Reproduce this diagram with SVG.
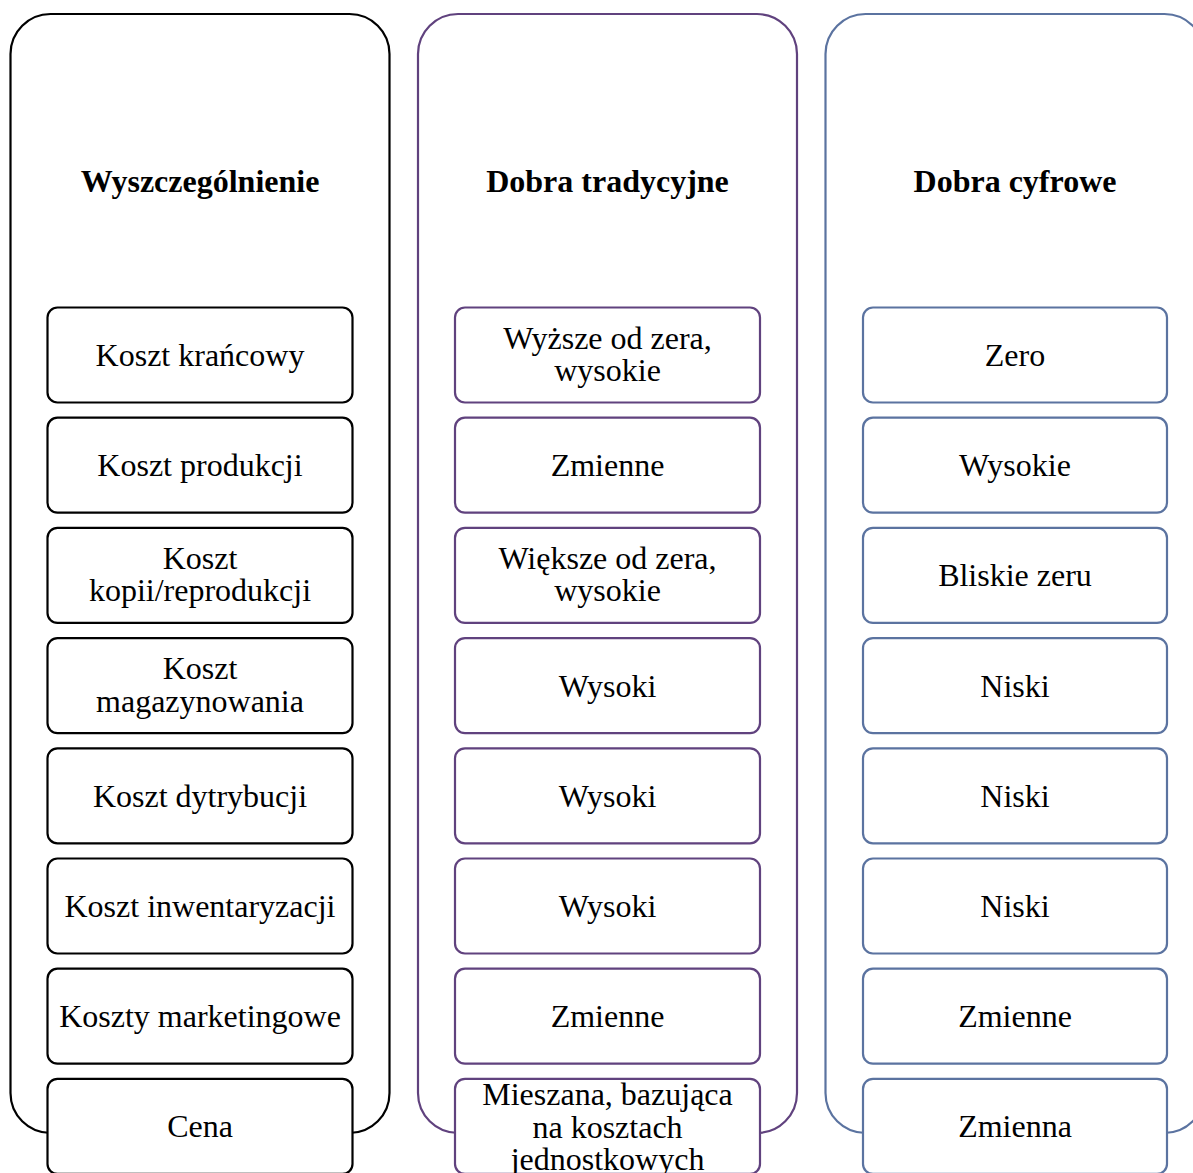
<svg xmlns="http://www.w3.org/2000/svg" width="1193" height="1173" viewBox="0 0 1193 1173">
  <style>
    .col { fill: #ffffff; stroke-width: 2.2; }
    .box { fill: #ffffff; stroke-width: 2.2; }
    .k { stroke: #000000; }
    .p { stroke: #60427e; }
    .b { stroke: #5b73a0; }
    text { font-family: "Liberation Serif", "Times New Roman", serif; font-size: 32px; fill: #000000; text-anchor: middle; }
    .hd { font-weight: bold; }
  </style>
  <rect width="1193" height="1173" fill="#ffffff"/>

  <!-- Column: Wyszczególnienie -->
  <g id="col-wyszczegolnienie">
    <rect class="col k" x="10.5" y="14" width="379" height="1119" rx="40" ry="40"/>
    <text class="hd" x="200" y="192">Wyszczególnienie</text>
  </g>
  <!-- Column: Dobra tradycyjne -->
  <g id="col-tradycyjne">
    <rect class="col p" x="418" y="14" width="379" height="1119" rx="40" ry="40"/>
    <text class="hd" x="607.5" y="192">Dobra tradycyjne</text>
  </g>
  <!-- Column: Dobra cyfrowe -->
  <g id="col-cyfrowe">
    <rect class="col b" x="825.5" y="14" width="379" height="1119" rx="40" ry="40"/>
    <text class="hd" x="1015" y="192">Dobra cyfrowe</text>
  </g>

  <g id="connectors"></g>

  <!-- Row 1 -->
  <g id="r1-a"><rect class="box k" x="47.5" y="307.5" width="305" height="95" rx="10"/><text x="200" y="366">Koszt krańcowy</text></g>
  <g id="r1-b"><rect class="box p" x="455" y="307.5" width="305" height="95" rx="10"/><text x="607.5" y="348.5">Wyższe od zera,</text><text x="607.5" y="381">wysokie</text></g>
  <g id="r1-c"><rect class="box b" x="863" y="307.5" width="304" height="95" rx="10"/><text x="1015" y="366">Zero</text></g>

  <!-- Row 2 -->
  <g id="r2-a"><rect class="box k" x="47.5" y="417.7" width="305" height="95" rx="10"/><text x="200" y="476.2">Koszt produkcji</text></g>
  <g id="r2-b"><rect class="box p" x="455" y="417.7" width="305" height="95" rx="10"/><text x="607.5" y="476.2">Zmienne</text></g>
  <g id="r2-c"><rect class="box b" x="863" y="417.7" width="304" height="95" rx="10"/><text x="1015" y="476.2">Wysokie</text></g>

  <!-- Row 3 -->
  <g id="r3-a"><rect class="box k" x="47.5" y="527.9" width="305" height="95" rx="10"/><text x="200" y="568.9">Koszt</text><text x="200" y="601.4">kopii/reprodukcji</text></g>
  <g id="r3-b"><rect class="box p" x="455" y="527.9" width="305" height="95" rx="10"/><text x="607.5" y="568.9">Większe od zera,</text><text x="607.5" y="601.4">wysokie</text></g>
  <g id="r3-c"><rect class="box b" x="863" y="527.9" width="304" height="95" rx="10"/><text x="1015" y="586.4">Bliskie zeru</text></g>

  <!-- Row 4 -->
  <g id="r4-a"><rect class="box k" x="47.5" y="638.1" width="305" height="95" rx="10"/><text x="200" y="679.1">Koszt</text><text x="200" y="711.6">magazynowania</text></g>
  <g id="r4-b"><rect class="box p" x="455" y="638.1" width="305" height="95" rx="10"/><text x="607.5" y="696.6">Wysoki</text></g>
  <g id="r4-c"><rect class="box b" x="863" y="638.1" width="304" height="95" rx="10"/><text x="1015" y="696.6">Niski</text></g>

  <!-- Row 5 -->
  <g id="r5-a"><rect class="box k" x="47.5" y="748.3" width="305" height="95" rx="10"/><text x="200" y="806.8">Koszt dytrybucji</text></g>
  <g id="r5-b"><rect class="box p" x="455" y="748.3" width="305" height="95" rx="10"/><text x="607.5" y="806.8">Wysoki</text></g>
  <g id="r5-c"><rect class="box b" x="863" y="748.3" width="304" height="95" rx="10"/><text x="1015" y="806.8">Niski</text></g>

  <!-- Row 6 -->
  <g id="r6-a"><rect class="box k" x="47.5" y="858.5" width="305" height="95" rx="10"/><text x="200" y="917">Koszt inwentaryzacji</text></g>
  <g id="r6-b"><rect class="box p" x="455" y="858.5" width="305" height="95" rx="10"/><text x="607.5" y="917">Wysoki</text></g>
  <g id="r6-c"><rect class="box b" x="863" y="858.5" width="304" height="95" rx="10"/><text x="1015" y="917">Niski</text></g>

  <!-- Row 7 -->
  <g id="r7-a"><rect class="box k" x="47.5" y="968.7" width="305" height="95" rx="10"/><text x="200" y="1027.2">Koszty marketingowe</text></g>
  <g id="r7-b"><rect class="box p" x="455" y="968.7" width="305" height="95" rx="10"/><text x="607.5" y="1027.2">Zmienne</text></g>
  <g id="r7-c"><rect class="box b" x="863" y="968.7" width="304" height="95" rx="10"/><text x="1015" y="1027.2">Zmienne</text></g>

  <!-- Row 8 -->
  <g id="r8-a"><rect class="box k" x="47.5" y="1078.9" width="305" height="95" rx="10"/><text x="200" y="1137.4">Cena</text></g>
  <g id="r8-b"><rect class="box p" x="455" y="1078.9" width="305" height="95" rx="10"/><text x="607.5" y="1105">Mieszana, bazująca</text><text x="607.5" y="1137.5">na kosztach</text><text x="607.5" y="1170">jednostkowych</text></g>
  <g id="r8-c"><rect class="box b" x="863" y="1078.9" width="304" height="95" rx="10"/><text x="1015" y="1137.4">Zmienna</text></g>
</svg>
